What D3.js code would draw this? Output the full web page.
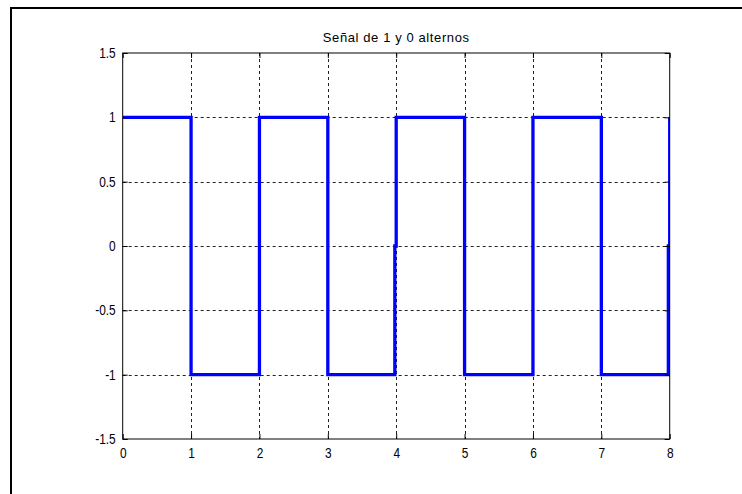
<!DOCTYPE html>
<html><head><meta charset="utf-8">
<script src="https://cdn.jsdelivr.net/npm/d3@7"></script>
<style>html,body{margin:0;padding:0;background:#fff;}svg{display:block;}</style>
</head><body>
<svg id="c" width="742" height="494"></svg>
<script>
const titleText = "Señal de 1 y 0 alternos";
const xTicks = [0,1,2,3,4,5,6,7,8];
const yTicks = [-1.5,-1,-0.5,0,0.5,1,1.5];
const yTickLabels = ["-1.5","-1","-0.5","0","0.5","1","1.5"];
const signalT = [0,1,1,2,2,3,3,3.98,3.98,4,4,5,5,6,6,7,7,7.98,7.98,8,8];
const signalY = [1,1,-1,-1,1,1,-1,-1,0,0,1,1,-1,-1,1,1,-1,-1,0,0,1];

const svg = d3.select("#c");
const L = 122.7, R = 669.7, T = 53, B = 439;
const x = d3.scaleLinear().domain([0,8]).range([L,R]);
const y = d3.scaleLinear().domain([-1.5,1.5]).range([B,T]);

// figure border
svg.append("path").attr("d","M11,494 L11,8 L742,8").attr("fill","none").attr("stroke","#000").attr("stroke-width",2);

// grid
const g = svg.append("g");
g.selectAll(".vg").data(xTicks.slice(1,-1)).join("line")
  .attr("x1",d=>Math.round(x(d))+0.5).attr("x2",d=>Math.round(x(d))+0.5).attr("y1",T).attr("y2",B)
  .attr("stroke","#222").attr("stroke-width",1).attr("stroke-dasharray","3,3");
g.selectAll(".hg").data(yTicks.slice(1,-1)).join("line")
  .attr("y1",d=>Math.round(y(d))+0.5).attr("y2",d=>Math.round(y(d))+0.5).attr("x1",L).attr("x2",R)
  .attr("stroke","#222").attr("stroke-width",1).attr("stroke-dasharray","3,3");

// signal
svg.append("clipPath").attr("id","cp").append("rect").attr("x",L).attr("y",T-5).attr("width",R-L).attr("height",B-T+10);
const pts = signalT.map((t,i)=>[t,signalY[i]]);
svg.append("path").datum(pts).attr("clip-path","url(#cp)")
  .attr("d",d3.line().x(d=>x(d[0])).y(d=>y(d[1])))
  .attr("fill","none").attr("stroke","#0000ff").attr("stroke-width",3.3).attr("stroke-linejoin","miter");

// axes box
svg.append("rect").attr("x",L).attr("y",T).attr("width",R-L).attr("height",B-T)
  .attr("fill","none").attr("stroke","#000").attr("stroke-width",1);

// axes with inward ticks
const font = "'Liberation Sans', Arial, sans-serif";
const xa = svg.append("g").attr("transform",`translate(0,${B})`)
  .call(d3.axisBottom(x).tickValues(xTicks).tickSize(-5).tickPadding(9).tickFormat(d3.format("d")));
xa.select(".domain").remove();
const ya = svg.append("g").attr("transform",`translate(${L},0)`)
  .call(d3.axisLeft(y).tickValues(yTicks).tickSize(-5).tickPadding(7).tickFormat((d,i)=>yTickLabels[i]));
ya.select(".domain").remove();
svg.append("g").attr("transform",`translate(0,${T})`)
  .call(d3.axisTop(x).tickValues(xTicks).tickSize(-5).tickFormat("")).select(".domain").remove();
svg.append("g").attr("transform",`translate(${R},0)`)
  .call(d3.axisRight(y).tickValues(yTicks).tickSize(-5).tickFormat("")).select(".domain").remove();
svg.selectAll(".tick line").attr("stroke","#000");
xa.selectAll(".tick text").attr("font-family",font).attr("font-size",14).attr("fill","#000")
  .attr("transform","scale(0.85,1)");
ya.selectAll(".tick text").attr("font-family",font).attr("font-size",14).attr("fill","#000")
  .attr("x",-7/0.85).attr("transform","scale(0.85,1)");

// title
svg.append("text").attr("x",(L+R)/2).attr("y",42).attr("text-anchor","middle")
  .attr("font-family",font).attr("font-size",13).attr("letter-spacing",0.6).attr("fill","#000").text(titleText);
</script>
</body></html>
